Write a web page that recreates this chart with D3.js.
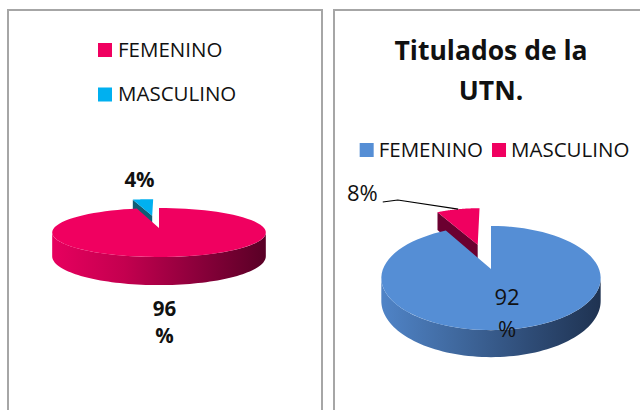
<!DOCTYPE html>
<html>
<head>
<meta charset="utf-8">
<script src="https://cdn.jsdelivr.net/npm/d3@7"></script>
<style>
  body { margin: 0; background: #fff; }
  svg { display: block; font-family: 'Open Sans', sans-serif; }
</style>
</head>
<body>
<div id="chart"></div>
<script>
// data
const leftCategories = ['FEMENINO', 'MASCULINO']
const leftValues = [96, 4]
const rightTitle = ['Titulados de la', 'UTN.']
const rightCategories = ['FEMENINO', 'MASCULINO']
const rightValues = [92, 8]

const width = 640, height = 410
const pink = '#f00060', cyan = '#00b0f0', blue = '#558ed5'

const svg = d3.select('#chart').append('svg')
              .attr('width', width)
              .attr('height', height)
const defs = svg.append('defs')

// panel frames
svg.append('rect').attr('x', 8).attr('y', 10).attr('width', 314).attr('height', 430)
   .attr('fill', 'none').attr('stroke', '#a6a6a6').attr('stroke-width', 2)
svg.append('rect').attr('x', 334).attr('y', 10).attr('width', 330).attr('height', 430)
   .attr('fill', 'none').attr('stroke', '#a6a6a6').attr('stroke-width', 2)

// 3d pie: disk point (X right, Z back) projected with a light perspective
function pie3d (g, values, o) {
    const arcs = d3.pie().sort(null).startAngle(0).endAngle(2 * Math.PI)(values)
    const proj = (X, Z, h = 0) => {
        const p = 1 / (1 + o.k * Z)
        return [o.cx + X * o.rx * p, o.cy - Z * o.ry * p + h * p]
    }
    const offs = arcs.map((a, i) => {
        const e = o.explode[i] || 0, mid = (a.startAngle + a.endAngle) / 2
        return [e * Math.sin(mid), e * Math.cos(mid)]
    })
    const rim = (a, off, h = 0) => proj(off[0] + Math.sin(a), off[1] + Math.cos(a), h)
    const samples = (a0, a1) => d3.range(0, 81).map(j => a0 + (a1 - a0) * j / 80)
    const line = d3.line()

    const gid = 'grad' + o.id
    const grad = defs.append('linearGradient').attr('id', gid)
                     .attr('gradientUnits', 'userSpaceOnUse')
                     .attr('x1', o.cx - o.rx).attr('x2', o.cx + o.rx).attr('y1', 0).attr('y2', 0)
    o.side.forEach((c, j) => grad.append('stop').attr('offset', j / (o.side.length - 1)).attr('stop-color', c))

    const vis0 = Math.acos(-o.k), vis1 = 2 * Math.PI - vis0
    const order = d3.range(arcs.length).sort((a, b) => offs[b][1] - offs[a][1])

    order.forEach(i => {
        const a = arcs[i], off = offs[i]
        const s = g.append('g')

        // outer wall
        const w0 = Math.max(a.startAngle, vis0), w1 = Math.min(a.endAngle, vis1)
        if (w1 > w0) {
            const top = samples(w0, w1).map(t => rim(t, off))
            const bot = samples(w0, w1).reverse().map(t => rim(t, off, o.depth))
            s.append('path').attr('d', line(top.concat(bot)) + 'Z').attr('fill', `url(#${gid})`)
        }

        // cut faces turned toward the viewer
        const c0 = proj(off[0], off[1]), c1 = proj(off[0], off[1], o.depth)
        if (a.endAngle - a.startAngle < Math.PI * 2 - 1e-6) {
            [[a.startAngle, -Math.cos(a.startAngle)], [a.endAngle, Math.cos(a.endAngle)]].forEach(([t, nz]) => {
                if (nz < -1e-6) {
                    s.append('path')
                     .attr('d', line([c0, rim(t, off), rim(t, off, o.depth), c1]) + 'Z')
                     .attr('fill', o.dark[i])
                }
            })
        }

        // top face
        s.append('path')
         .attr('d', line([c0].concat(samples(a.startAngle, a.endAngle).map(t => rim(t, off)))) + 'Z')
         .attr('fill', o.colors[i])
    })

    return { arcs, offs, proj, rim }
}

// ---------- left chart ----------
const left = svg.append('g')

const leftLegend = left.selectAll('g.leg').data(leftCategories).join('g')
                       .attr('transform', (d, i) => `translate(98, ${43 + i * 44.5})`)
leftLegend.append('rect').attr('width', 14).attr('height', 14)
          .attr('fill', (d, i) => [pink, cyan][i])
leftLegend.append('text').text(d => d).attr('x', 20).attr('y', 13.5)
          .style('font-size', '20.5px').style('fill', '#111')

const lp = pie3d(left, leftValues, {
    id: 'L', cx: 159, cy: 228, rx: 105, ry: 23.7, k: 0.184, depth: 22.9,
    explode: [0, 0.57], colors: [pink, cyan], dark: ['#7a0030', '#0f5d75'],
    side: ['#e6005e', '#c4004f', '#8e003c', '#5a0026']
})
const leftTotal = d3.sum(leftValues)
const lPct = leftValues.map(v => Math.round(v / leftTotal * 100))

left.append('text').text(lPct[1] + '%')
    .attr('x', 139.5).attr('y', 187).attr('text-anchor', 'middle')
    .style('font-size', '20.5px').style('font-weight', '700').style('fill', '#111')
const l96 = left.append('text').attr('text-anchor', 'middle')
                .style('font-size', '20.5px').style('font-weight', '700').style('fill', '#111')
l96.append('tspan').text(lPct[0]).attr('x', 164.5).attr('y', 316)
l96.append('tspan').text('%').attr('x', 164.5).attr('y', 343)

// ---------- right chart ----------
const right = svg.append('g')

right.selectAll('text.title').data(rightTitle).join('text')
     .text(d => d)
     .attr('x', 491).attr('y', (d, i) => 60 + i * 40)
     .attr('text-anchor', 'middle')
     .style('font-size', '26.5px').style('font-weight', '700').style('fill', '#111')

const rLeg = right.append('g')
const rColors = [blue, pink]
let xPos = 0
rightCategories.forEach((c, i) => {
    rLeg.append('rect').attr('x', xPos).attr('y', 143).attr('width', 14).attr('height', 14).attr('fill', rColors[i])
    const t = rLeg.append('text').text(c).attr('x', xPos + 19).attr('y', 157)
                  .style('font-size', '20.5px').style('fill', '#111')
    xPos += 19 + t.node().getComputedTextLength() + 9
})
const legW = xPos - 9
rLeg.attr('transform', `translate(${494.5 - legW / 2}, 0)`)

const rp = pie3d(right, rightValues, {
    id: 'R', cx: 491, cy: 269, rx: 108, ry: 50.5, k: 0.174, depth: 22.3,
    explode: [0, 0.54], colors: [blue, pink], dark: ['#1f3a66', '#6b0030'],
    side: ['#4f83c6', '#40699f', '#2f4d78', '#1f3352']
})
const rightTotal = d3.sum(rightValues)
const rPct = rightValues.map(v => Math.round(v / rightTotal * 100))

const r92 = right.append('text').attr('text-anchor', 'middle')
                 .style('font-size', '22px').style('fill', '#111')
r92.append('tspan').text(rPct[0]).attr('x', 507).attr('y', 305)
r92.append('tspan').text('%').attr('x', 507).attr('y', 337)

const r8 = right.append('text').text(rPct[1] + '%')
                .attr('x', 347).attr('y', 201)
                .style('font-size', '22px').style('fill', '#111')
const r8end = 347 + r8.node().getComputedTextLength()
const a8 = rp.arcs[1]
const tip = rp.rim((a8.startAngle + a8.endAngle) / 2, rp.offs[1])
right.append('path')
     .attr('d', d3.line()([[r8end + 5, 202], [r8end + 20, 200], tip]))
     .attr('fill', 'none').attr('stroke', '#000').attr('stroke-width', 1.2)
</script>
</body>
</html>
